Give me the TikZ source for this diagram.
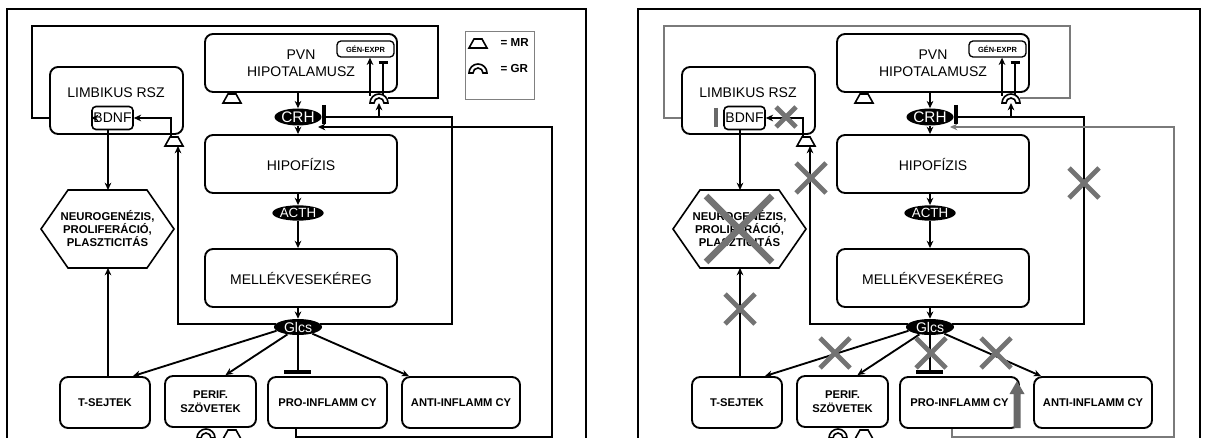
\documentclass[tikz,border=0pt]{standalone}
\usepackage{fontspec}
\setmainfont{Liberation Sans}
\usetikzlibrary{arrows.meta,shapes.geometric,calc}
\definecolor{xgray}{HTML}{737373}
\definecolor{lgray}{HTML}{7A7A7A}
\definecolor{agray}{HTML}{686868}
\tikzset{
 ln/.style={line width=1.4pt},
 arr/.style={line width=1.4pt,-{Stealth[length=5.5pt,width=5pt]}},
 garr/.style={line width=1.1pt,draw=lgray,-{Stealth[length=5.5pt,width=5pt]}},
 gln/.style={line width=1.1pt,draw=lgray},
 rbox/.style={draw,line width=1.4pt,rounded corners=6pt,fill=white,inner sep=0pt,align=center,font=\fontsize{10.5}{12.75}\selectfont},
 sbox/.style={rbox,font=\fontsize{8.4}{10.5}\selectfont\bfseries,minimum height=38.25pt},
 hormone/.style={ellipse,fill=black,text=white,inner sep=0pt},
 ibar/.style={line width=2.4pt},
 xmark/.style={draw=xgray,line width=3.6pt},
 sym/.style={line width=1.2pt,fill=white},
 frame/.style={line width=1.3pt},
}
\newcommand\mrsym[2]{\draw[sym] (#1-4,#2) -- (#1+4,#2) -- (#1+9,#2+9) -- (#1-9,#2+9) -- cycle;}
\newcommand\grsym[2]{\draw[sym] (#1-9,#2) arc[start angle=180,end angle=0,radius=6.75pt] -- (#1+5,#2) arc[start angle=0,end angle=180,radius=3.75pt] -- cycle;}
\newcommand\xmk[3]{\draw[xmark] (#1-#3,#2-#3) -- (#1+#3,#2+#3) (#1-#3,#2+#3) -- (#1+#3,#2-#3);}
\newcommand\hpapanel[1]{%
 \node[rbox,minimum width=144pt,minimum height=43.5pt] (#1pvn) at (301,63) {PVN\\HIPOTALAMUSZ};
 \node[rbox,rounded corners=3pt,line width=1pt,minimum width=42.75pt,minimum height=12pt,font=\fontsize{5.6}{6}\selectfont\bfseries] (#1gen) at (365.5,49) {GÉN-EXPR};
 \node[rbox,minimum width=99.75pt,minimum height=50.25pt] (#1limb) at (116.5,100.5) {};
 \node[font=\fontsize{10.5}{12}\selectfont] (#1limbt) at (116,93) {LIMBIKUS RSZ};
 \node[rbox,rounded corners=3pt,line width=1.2pt,minimum width=30.75pt,minimum height=17.25pt] (#1bdnf) at (112.5,118) {BDNF};
 \node[rbox,minimum width=144pt,minimum height=43.5pt] (#1hipo) at (301,164) {HIPOFÍZIS};
 \node[rbox,minimum width=144pt,minimum height=43.5pt] (#1mell) at (301,278) {MELLÉKVESEKÉREG};
 \node[hormone,minimum width=33pt,minimum height=12.75pt,font=\fontsize{11.5}{12}\selectfont] (#1crh) at (298,117) {CRH};
 \node[hormone,minimum width=37.5pt,minimum height=11.5pt,font=\fontsize{10}{12}\selectfont] (#1acth) at (298,213) {ACTH};
 \node[hormone,minimum width=36pt,minimum height=12pt,font=\fontsize{10.5}{12}\selectfont] (#1glcs) at (298,327) {Glcs};
 \draw[line width=1.2pt,fill=white] (41,229) -- (68,190) -- (147,190) -- (174,229) -- (147,268) -- (68,268) -- cycle;
 \node[align=center,font=\fontsize{8.5}{9.75}\selectfont\bfseries] (#1hex) at (107.5,229) {NEUROGENÉZIS,\\PROLIFERÁCIÓ,\\PLASZTICITÁS};
 \coordinate (#1hext) at (108,190);
 \coordinate (#1hexb) at (108,268);
 \node[sbox,minimum width=67.5pt] (#1tsej) at (105,402.5) {T-SEJTEK};
 \node[sbox,minimum width=68.25pt] (#1perif) at (210.5,401.5) {PERIF.\\SZÖVETEK};
 \node[sbox,minimum width=89.25pt] (#1pro) at (327.5,402.5) {PRO-INFLAMM CY};
 \node[sbox,minimum width=88.5pt] (#1anti) at (461,402.5) {ANTI-INFLAMM CY};
 \draw[arr] (#1pvn.south -| #1crh) -- (#1crh.north);
 \draw[arr] (#1crh.south) -- (#1hipo.north -| #1crh);
 \draw[arr] (#1hipo.south -| #1acth) -- (#1acth.north);
 \draw[arr] (#1acth.south) -- (#1mell.north -| #1acth);
 \draw[arr] (#1mell.south -| #1glcs) -- (#1glcs.north);
 \coordinate (#1gr) at (379,103);
 \coordinate (#1crhbar) at (324,117);
 \coordinate (#1mrlb) at (178,146);
 \draw[ln] (#1glcs.8) -| (452,117) -- (#1crhbar);
 \draw[ibar] (324,105) -- (324,124);
 \draw[arr] ($(#1gr)+(0,14)$) -- (#1gr);
 \draw[arr] ($(#1gr)+(-9,-7)$) -- ($(#1gen.south)+(4.5,0)$);
 \draw[ln] ($(#1gr)+(4,-8)$) -- ($(#1gen.south)+(17.5,5)$);
 \draw[ibar] ($(#1gen.south)+(13,5)$) -- ($(#1gen.south)+(22,5)$);
 \draw[arr] (#1glcs.172) -| (#1mrlb);
 \draw[arr] (171,137) |- (#1bdnf.east);
 \draw[arr] (#1bdnf.south -| #1hext) -- (#1hext);
 \draw[arr] (#1tsej.north -| #1hexb) -- (#1hexb);
 \draw[arr] (#1glcs.190) -- ($(#1tsej.north)+(28,0)$);
 \draw[arr] (#1glcs.215) -- ($(#1perif.north)+(15,0)$);
 \draw[ln] (#1glcs.south) -- ($(#1pro.north)+(-29.5,-4)$);
 \draw[ibar] ($(#1pro.north)+(-43.5,-4)$) -- ($(#1pro.north)+(-16.5,-4)$);
 \draw[arr] (#1glcs.-25) -- ($(#1anti.north)+(-52,0)$);
 \mrsym{232}{94}
 \mrsym{174}{137}
 \grsym{379}{103}
 \grsym{206}{438}
 \mrsym{232}{430}
}
\begin{document}
\begin{tikzpicture}[x=0.75pt,y=-0.75pt]
\useasboundingbox (0,0) rectangle (1206,438);
\fill[white] (0,0) rectangle (1206,438);
% left panel
\draw[frame] (7,440) -- (7,9) -- (586,9) -- (586,440);
\draw[ln] (388,98) -- (438,98) -- (438,26) -- (32,26) -- (32,118) -- (92,118);
\hpapanel{L}
\draw[arr] (92,118) -- (Lbdnf.west);
\draw[arr] ($(Lpro.south west)+(29,0)$) -- ++(0,8) -| (552,127) -- (318,127);
\node[draw=gray,line width=0.7pt,minimum width=51.75pt,minimum height=51pt] (legend) at (499.5,65) {};
\mrsym{478}{39}
\grsym{478}{73}
\node[anchor=west,font=\fontsize{8.7}{10}\selectfont\bfseries] (legmr) at (496,43) {= MR};
\node[anchor=west,font=\fontsize{8.7}{10}\selectfont\bfseries] (leggr) at (496,69) {= GR};
% right panel
\draw[frame] (638,440) -- (638,9) -- (1200,9) -- (1200,440);
\begin{scope}[xshift=474pt]
\draw[gln] (388,98) -- (438,98) -- (438,26) -- (32,26) -- (32,118) -- (85,118);
\hpapanel{R}
\draw[line width=3pt,draw=agray] ($(Rbdnf.west)+(-7,-10)$) -- ($(Rbdnf.west)+(-7,9)$);
\draw[garr] ($(Rpro.south west)+(53,0)$) -- ++(0,8) -| (542,127) -- (318,127);
\fill[agray] (381.5,428) -- (388.5,428) -- (388.5,394) -- (392.5,394) -- (385,381) -- (377.5,394) -- (381.5,394) -- cycle;
\draw[xmark,line width=5pt] (74,196) -- (140,262) (74,262) -- (140,196);
\xmk{154}{117}{10}
\xmk{108}{309}{15}
\xmk{179}{178}{15}
\xmk{452}{183}{15}
\xmk{203}{353}{15}
\xmk{299}{353}{15}
\xmk{364}{353}{15}
\end{scope}
\end{tikzpicture}
\end{document}
